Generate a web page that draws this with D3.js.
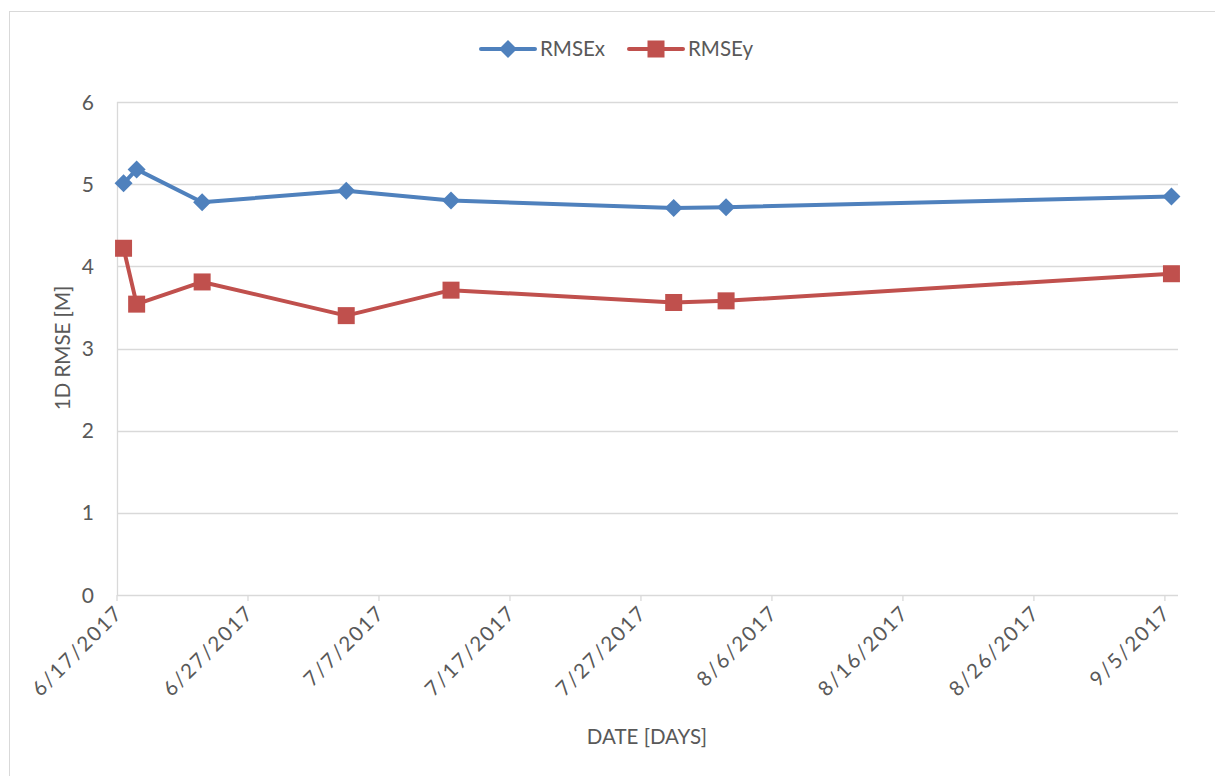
<!DOCTYPE html>
<html>
<head>
<meta charset="utf-8">
<script src="https://cdn.jsdelivr.net/npm/d3@7"></script>
<style>
  body { margin: 0; background: #fff; }
  svg text { font-family: Lato, "Open Sans", "Liberation Sans", sans-serif; fill: #595959; }
</style>
</head>
<body>
<div id="chart"></div>
<script>
var width = 1215, height = 776;

// data
var dates = ["2017-06-17", "2017-06-18", "2017-06-23", "2017-07-04", "2017-07-12", "2017-07-29", "2017-08-02", "2017-09-05"];
var rmseX = [5.01, 5.18, 4.78, 4.92, 4.80, 4.71, 4.72, 4.85];
var rmseY = [4.22, 3.54, 3.81, 3.40, 3.71, 3.56, 3.58, 3.91];
var tickDates = ["2017-06-17", "2017-06-27", "2017-07-07", "2017-07-17", "2017-07-27", "2017-08-06", "2017-08-16", "2017-08-26", "2017-09-05"];
var yTicks = [0, 1, 2, 3, 4, 5, 6];

var parse = d3.timeParse("%Y-%m-%d");
var fmt = d3.timeFormat("%-m/%-d/%Y");

var svg = d3.select("#chart").append("svg")
    .attr("width", width)
    .attr("height", height);

// chart frame (cut off at right and bottom)
svg.append("rect")
    .attr("x", 9.5).attr("y", 11.5)
    .attr("width", 1220).attr("height", 780)
    .attr("fill", "#fff")
    .attr("stroke", "#d9d9d9");

var plot = {left: 117, right: 1178, top: 102, bottom: 595};

var x = d3.scaleTime()
    .domain([parse("2017-06-17"), parse("2017-09-06")])
    .range([plot.left, plot.right]);

var y = d3.scaleLinear()
    .domain([0, 6])
    .range([plot.bottom, plot.top]);

// points sit in the middle of their day
function xPos(s) { return x(d3.timeHour.offset(parse(s), 12)); }

// gridlines
svg.append("g")
    .selectAll("line")
    .data(yTicks)
    .enter().append("line")
    .attr("x1", plot.left).attr("x2", plot.right)
    .attr("y1", function(d) { return Math.round(y(d)) + 0.5; })
    .attr("y2", function(d) { return Math.round(y(d)) + 0.5; })
    .attr("stroke", "#d9d9d9")
    .attr("stroke-width", 1.3);

// y axis line
svg.append("line")
    .attr("x1", plot.left + 0.5).attr("x2", plot.left + 0.5)
    .attr("y1", plot.top).attr("y2", plot.bottom)
    .attr("stroke", "#d9d9d9")
    .attr("stroke-width", 1.3);

// y tick labels
svg.append("g")
    .selectAll("text")
    .data(yTicks)
    .enter().append("text")
    .attr("x", 94)
    .attr("y", function(d) { return y(d); })
    .attr("dy", "0.36em")
    .attr("text-anchor", "end")
    .attr("font-size", 21)
    .text(function(d) { return d; });

// x axis ticks
svg.append("g")
    .selectAll("line")
    .data(tickDates)
    .enter().append("line")
    .attr("x1", function(d) { return x(parse(d)); })
    .attr("x2", function(d) { return x(parse(d)); })
    .attr("y1", plot.bottom).attr("y2", plot.bottom + 6)
    .attr("stroke", "#d9d9d9")
    .attr("stroke-width", 1.3);

// x tick labels, rotated
svg.append("g")
    .selectAll("text")
    .data(tickDates)
    .enter().append("text")
    .attr("transform", function(d) {
        return "translate(" + (x(parse(d)) + 7) + "," + (plot.bottom + 19) + ") rotate(-45)";
    })
    .attr("text-anchor", "end")
    .attr("font-size", 20.5)
    .attr("letter-spacing", 1.8)
    .text(function(d) { return fmt(parse(d)); });

// axis titles
svg.append("text")
    .attr("x", 647).attr("y", 744)
    .attr("text-anchor", "middle")
    .attr("font-size", 20.5)
    .text("DATE [DAYS]");

svg.append("text")
    .attr("transform", "translate(70,348) rotate(-90)")
    .attr("text-anchor", "middle")
    .attr("font-size", 20.5)
    .text("1D RMSE [M]");

var series = [
    {name: "RMSEx", values: rmseX, color: "#4f81bd", shape: "diamond"},
    {name: "RMSEy", values: rmseY, color: "#c0504d", shape: "square"}
];

var line = d3.line()
    .x(function(d, i) { return xPos(dates[i]); })
    .y(function(d) { return y(d); });

function marker(g, s) {
    if (s.shape === "diamond") {
        g.append("path")
            .attr("d", "M0,-9L9,0L0,9L-9,0Z")
            .attr("fill", s.color);
    } else {
        g.append("rect")
            .attr("x", -8.5).attr("y", -8.5)
            .attr("width", 17).attr("height", 17)
            .attr("fill", s.color);
    }
}

series.forEach(function(s) {
    svg.append("path")
        .datum(s.values)
        .attr("d", line)
        .attr("fill", "none")
        .attr("stroke", s.color)
        .attr("stroke-width", 4)
        .attr("stroke-linejoin", "round");

    svg.append("g")
        .selectAll("g")
        .data(s.values)
        .enter().append("g")
        .attr("transform", function(d, i) { return "translate(" + xPos(dates[i]) + "," + y(d) + ")"; })
        .each(function() { marker(d3.select(this), s); });
});

// legend
var legendX = [481, 629];
var legend = svg.append("g")
    .selectAll("g")
    .data(series)
    .enter().append("g")
    .attr("transform", function(d, i) { return "translate(" + legendX[i] + ",49)"; });

legend.append("line")
    .attr("x1", 0).attr("x2", 54)
    .attr("stroke", function(d) { return d.color; })
    .attr("stroke-width", 4)
    .attr("stroke-linecap", "round");

legend.append("g")
    .attr("transform", "translate(27,0)")
    .each(function(d) { marker(d3.select(this), d); });

legend.append("text")
    .attr("x", 59)
    .attr("dy", "0.36em")
    .attr("font-size", 20.5)
    .text(function(d) { return d.name; });
</script>
</body>
</html>
